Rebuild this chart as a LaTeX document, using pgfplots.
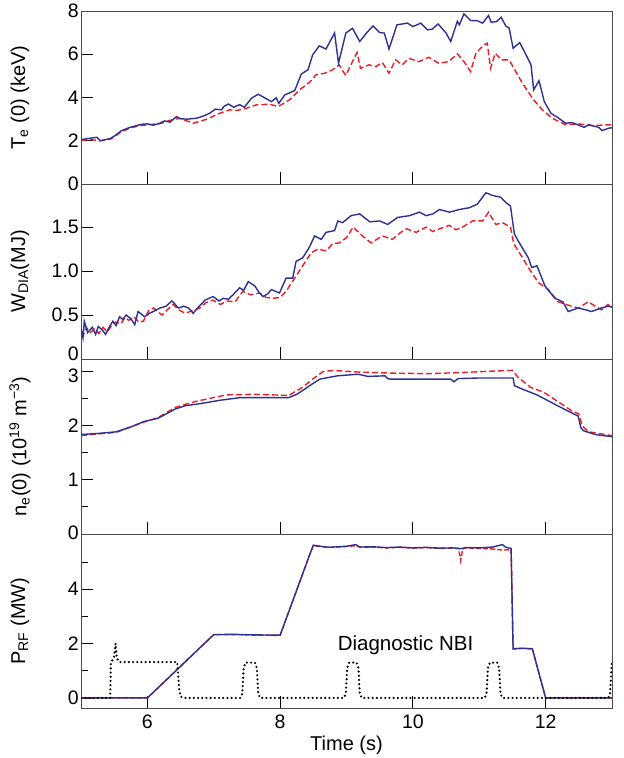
\documentclass[border=0pt]{standalone}
\usepackage{fontspec}
\setmainfont{Liberation Sans}
\usepackage{pgfplots}
\pgfplotsset{compat=1.18}
\definecolor{dblue}{HTML}{2E3192}
\definecolor{dred}{HTML}{EE1C25}
\pgfplotsset{
  panel/.style={
    scale only axis, width=531bp, xmin=5, xmax=13,
    xtick={6,8,10,12}, xtick pos=lower, ytick pos=lower, tick align=inside,
    major tick length=12bp, minor tick length=7bp,
    axis line style={black!70, line width=0.9bp},
    tick style={black, line width=0.8bp},
    tick label style={font=\fontsize{19.5bp}{21bp}\selectfont},
    yticklabel style={inner xsep=2bp, inner ysep=0.5bp},
    xticklabel style={yshift=-3bp},
    label style={font=\fontsize{20bp}{22bp}\selectfont},
    /pgf/number format/assume math mode=true,
    anchor=north west,
    ylabel style={at={(axis description cs:-0.115,0.5)}, anchor=center},
  },
  redl/.style={dred, line width=1.4bp, dash pattern=on 6bp off 3bp},
  bluel/.style={dblue, line width=1.4bp},
}
\begin{document}
\begin{tikzpicture}
% Panel 1: Te
\begin{axis}[panel, at={(81bp,-11bp)}, height=173bp, ymin=0, ymax=8,
  ytick={0,2,4,6,8}, xticklabels={}, ylabel={T\textsubscript{e} (0) (keV)}]
\addplot[redl] table {
5.00 2.02
5.15 2.05
5.30 2.00
5.45 2.08
5.60 2.40
5.75 2.60
5.90 2.70
6.05 2.75
6.20 2.80
6.35 2.95
6.49 3.04
6.59 2.92
6.69 2.81
6.89 2.99
7.09 3.27
7.24 3.43
7.35 3.40
7.49 3.50
7.64 3.66
7.84 3.69
7.97 3.58
8.14 3.89
8.29 4.35
8.44 4.69
8.54 5.05
8.67 5.12
8.79 5.28
8.89 5.51
8.95 5.20
8.99 5.02
9.09 5.66
9.16 6.08
9.21 5.35
9.34 5.51
9.44 5.43
9.54 5.62
9.64 5.12
9.74 5.74
9.84 5.51
9.94 5.81
10.09 5.66
10.24 5.86
10.39 5.58
10.54 5.66
10.67 6.02
10.77 5.66
10.87 5.20
10.95 6.05
11.07 6.43
11.12 6.51
11.17 5.35
11.24 6.05
11.34 5.74
11.45 5.74
11.55 5.20
11.65 4.66
11.75 4.20
11.82 3.89
11.95 3.43
12.10 3.04
12.30 2.74
12.50 2.78
12.70 2.70
12.95 2.74
13.00 2.72
};
\addplot[bluel] table {
5.00 2.05
5.10 2.10
5.24 2.16
5.29 2.00
5.44 2.10
5.52 2.25
5.61 2.47
5.74 2.62
5.91 2.76
6.00 2.78
6.09 2.72
6.18 2.80
6.26 2.92
6.34 2.86
6.44 3.12
6.49 3.02
6.60 3.00
6.74 3.04
6.85 3.15
6.94 3.27
7.02 3.46
7.12 3.43
7.15 3.58
7.22 3.70
7.30 3.55
7.39 3.67
7.46 3.55
7.57 3.97
7.67 4.15
7.77 3.98
7.87 3.81
7.94 3.99
7.98 3.73
8.07 4.12
8.22 4.32
8.32 5.09
8.42 5.28
8.49 5.97
8.59 6.39
8.69 6.24
8.82 6.98
8.88 5.59
8.99 6.98
9.09 7.20
9.20 6.59
9.30 6.98
9.40 7.31
9.50 7.00
9.57 6.98
9.64 6.24
9.76 7.36
9.92 7.44
10.00 7.28
10.12 7.44
10.22 7.13
10.29 7.16
10.38 7.40
10.50 6.98
10.57 6.59
10.67 7.52
10.70 7.36
10.77 7.87
10.87 7.56
10.97 7.55
11.05 7.44
11.14 7.79
11.18 7.48
11.26 7.51
11.33 7.71
11.40 7.31
11.45 7.21
11.51 6.28
11.61 6.54
11.73 5.82
11.78 5.51
11.82 4.35
11.90 4.78
11.98 3.81
12.08 3.27
12.20 3.04
12.30 2.81
12.40 2.84
12.58 2.62
12.65 2.74
12.80 2.62
12.85 2.47
12.95 2.58
13.00 2.60
};
\end{axis}
% Panel 2: W_DIA
\begin{axis}[panel, at={(81bp,-184bp)}, height=175bp, ymin=0, ymax=1.99,
  ytick={0,0.5,1,1.5}, yticklabels={\raisebox{5bp}[\height][\depth]{0},0.5,1.0,1.5}, xticklabels={},
  ylabel={W\textsubscript{DIA}(MJ)}]
\addplot[redl] table {
5.00 0.32
5.04 0.28
5.08 0.36
5.14 0.30
5.20 0.34
5.27 0.29
5.33 0.36
5.40 0.31
5.46 0.38
5.52 0.42
5.60 0.40
5.66 0.47
5.72 0.44
5.80 0.48
5.87 0.42
5.94 0.43
6.02 0.55
6.09 0.58
6.22 0.50
6.30 0.56
6.39 0.62
6.47 0.56
6.57 0.52
6.68 0.55
6.79 0.58
6.88 0.64
6.99 0.67
7.10 0.62
7.20 0.66
7.32 0.65
7.44 0.77
7.55 0.73
7.69 0.75
7.79 0.70
7.89 0.69
8.00 0.70
8.09 0.77
8.22 0.92
8.34 1.06
8.47 1.21
8.57 1.25
8.69 1.23
8.79 1.31
8.89 1.32
9.00 1.38
9.10 1.50
9.24 1.40
9.37 1.32
9.54 1.40
9.69 1.36
9.80 1.43
9.90 1.48
10.05 1.44
10.20 1.50
10.30 1.45
10.40 1.48
10.55 1.52
10.65 1.47
10.75 1.50
10.90 1.57
11.05 1.57
11.14 1.67
11.25 1.53
11.35 1.55
11.47 1.50
11.52 1.31
11.62 1.19
11.74 1.04
11.89 0.87
12.04 0.79
12.19 0.65
12.39 0.60
12.50 0.58
12.64 0.65
12.75 0.60
12.84 0.56
12.94 0.62
13.00 0.58
};
\addplot[bluel] table {
5.00 0.35
5.03 0.24
5.05 0.43
5.10 0.30
5.17 0.36
5.22 0.28
5.26 0.37
5.32 0.33
5.37 0.28
5.43 0.37
5.48 0.43
5.53 0.38
5.58 0.48
5.63 0.45
5.68 0.50
5.75 0.46
5.81 0.39
5.86 0.54
5.96 0.48
6.03 0.52
6.09 0.54
6.19 0.58
6.28 0.60
6.37 0.66
6.47 0.58
6.55 0.60
6.62 0.58
6.69 0.52
6.78 0.60
6.87 0.67
6.99 0.71
7.08 0.66
7.14 0.69
7.22 0.68
7.29 0.73
7.39 0.81
7.45 0.78
7.52 0.88
7.62 0.83
7.68 0.76
7.74 0.71
7.81 0.74
7.87 0.79
7.99 0.75
8.09 0.92
8.19 0.92
8.24 1.11
8.34 1.15
8.44 1.27
8.52 1.40
8.62 1.36
8.69 1.44
8.82 1.46
8.87 1.57
8.94 1.55
9.07 1.63
9.20 1.65
9.35 1.56
9.50 1.57
9.62 1.53
9.77 1.61
9.95 1.63
10.10 1.67
10.20 1.63
10.30 1.65
10.40 1.70
10.55 1.67
10.70 1.70
10.85 1.72
10.97 1.76
11.10 1.89
11.20 1.86
11.32 1.84
11.40 1.78
11.47 1.74
11.53 1.42
11.62 1.30
11.74 1.15
11.79 1.04
11.87 1.06
11.99 0.83
12.14 0.69
12.26 0.65
12.34 0.54
12.49 0.58
12.60 0.56
12.69 0.54
12.84 0.58
12.94 0.60
13.00 0.59
};
\end{axis}
% Panel 3: ne
\begin{axis}[panel, at={(81bp,-359bp)}, height=175bp, ymin=0, ymax=3.22,
  ytick={0,1,2,3}, minor ytick={0.5,1.5,2.5}, xticklabels={},
  yticklabels={\raisebox{1.5bp}[\height][\depth]{0},1,2,\raisebox{-4.5bp}[\height][\depth]{3}},
  ylabel={n\textsubscript{e}(0) (10\textsuperscript{19} m\textsuperscript{\char"2212 3})}]
\addplot[redl] table {
5.00 1.81
5.25 1.84
5.53 1.87
5.75 1.97
5.95 2.06
6.16 2.14
6.42 2.33
6.73 2.44
7.19 2.56
7.61 2.57
8.13 2.55
8.34 2.70
8.50 2.86
8.65 2.99
8.80 3.01
9.17 2.98
9.69 2.96
10.21 2.95
10.72 2.97
11.25 3.00
11.50 3.01
11.58 2.89
11.77 2.70
11.97 2.61
12.18 2.44
12.39 2.27
12.50 2.21
12.55 1.99
12.65 1.88
13.00 1.81
};
\addplot[bluel] table {
5.00 1.83
5.25 1.85
5.53 1.88
5.75 1.97
5.95 2.07
6.16 2.13
6.30 2.22
6.42 2.30
6.57 2.36
6.80 2.40
7.09 2.46
7.40 2.51
7.71 2.51
8.13 2.51
8.25 2.57
8.34 2.64
8.47 2.75
8.60 2.85
8.86 2.91
9.17 2.94
9.25 2.92
9.32 2.90
9.58 2.91
9.62 2.86
9.66 2.85
10.00 2.85
10.57 2.85
10.62 2.80
10.68 2.86
10.99 2.87
11.51 2.87
11.53 2.73
11.66 2.66
11.87 2.56
12.18 2.36
12.49 2.17
12.53 1.96
12.57 1.90
12.75 1.83
13.00 1.79
};
\end{axis}
% Panel 4: P_RF
\begin{axis}[panel, at={(81bp,-534bp)}, height=174bp, ymin=-0.37, ymax=6.03,
  ytick={0,2,4}, minor ytick={1,3,5},
  xlabel={Time (s)}, ylabel={P\textsubscript{RF} (MW)},
  xlabel style={yshift=-1bp}]
\addplot[redl, dash pattern=on 5bp off 2bp] table {
5.00 0
6.00 0
7.00 2.33
7.30 2.33
7.60 2.31
8.00 2.30
8.13 3.17
8.39 4.90
8.45 5.30
8.50 5.60
8.60 5.57
8.75 5.54
9.00 5.57
9.14 5.60
9.20 5.55
9.40 5.55
9.60 5.52
9.80 5.54
10.00 5.51
10.20 5.53
10.40 5.50
10.60 5.51
10.69 5.50
10.72 5.05
10.75 5.48
10.80 5.52
11.00 5.50
11.20 5.48
11.35 5.44
11.48 5.45
11.51 1.80
11.65 1.82
11.80 1.80
12.00 0
13.00 0
};
\addplot[bluel] table {
5.00 0
6.00 0
7.00 2.33
7.30 2.34
7.60 2.32
8.00 2.31
8.13 3.17
8.39 4.90
8.45 5.30
8.50 5.62
8.60 5.58
8.75 5.54
9.00 5.58
9.14 5.64
9.20 5.55
9.40 5.56
9.60 5.53
9.80 5.55
10.00 5.52
10.20 5.54
10.40 5.51
10.60 5.52
10.72 5.49
10.80 5.53
11.00 5.52
11.20 5.55
11.35 5.64
11.40 5.54
11.48 5.50
11.51 1.81
11.65 1.83
11.80 1.81
12.00 0
13.00 0
};
\addplot[black, line width=2.4bp, line cap=round, dash pattern=on 0bp off 4.2bp] table {
5.00 0
5.44 0
5.45 1.30
5.50 1.50
5.52 2.00
5.54 1.45
5.58 1.32
6.45 1.32
6.48 0.30
6.50 0.05
6.55 0
7.40 0
7.43 0.15
7.45 1.10
7.48 1.30
7.62 1.30
7.65 1.10
7.67 0.15
7.70 0
8.96 0
8.99 0.15
9.01 1.10
9.04 1.30
9.15 1.30
9.18 1.10
9.20 0.15
9.23 0
11.08 0
11.11 0.15
11.13 1.10
11.16 1.30
11.27 1.30
11.30 1.10
11.32 0.15
11.35 0
12.94 0
12.97 0.10
12.99 1.00
13.00 1.30
};
\node[font=\fontsize{20.5bp}{22bp}\selectfont] at (axis cs:9.89,1.95) {Diagnostic NBI};
\node[font=\fontsize{10.5bp}{12bp}\selectfont, text=black, rotate=90, anchor=north west, inner sep=0pt]
  at ([xshift=1.5bp]rel axis cs:1,0.07) {JG03.113-1c};
\end{axis}
\pgfresetboundingbox
\path[use as bounding box] (0,0) rectangle (624bp,-758bp);
\end{tikzpicture}
\end{document}
